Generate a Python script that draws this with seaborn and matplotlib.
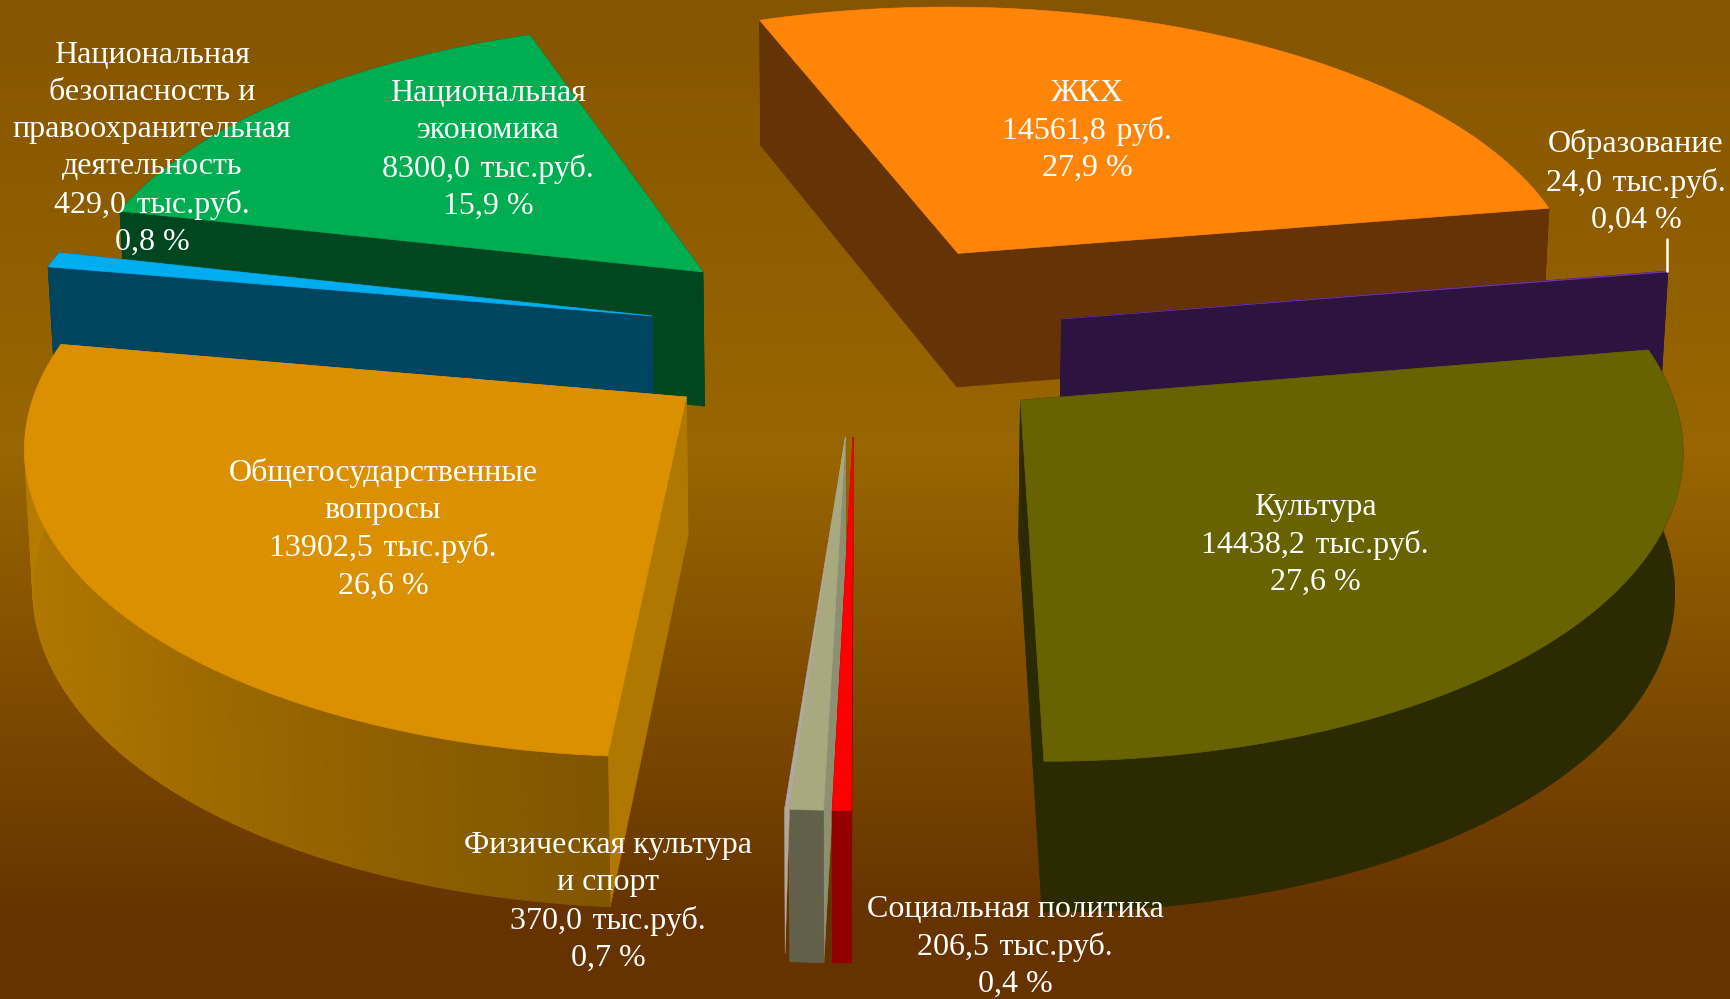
import numpy as np
import matplotlib
matplotlib.use('Agg')
import matplotlib.pyplot as plt
from matplotlib.colors import LinearSegmentedColormap
import seaborn as sns

# data
names = ['ЖКХ', 'Образование', 'Культура', 'Социальная политика', 'Физическая культура\nи спорт',
         'Общегосударственные\nвопросы', 'Национальная\nбезопасность и\nправоохранительная\nдеятельность',
         'Национальная\nэкономика']
values = [14561.8, 24.0, 14438.2, 206.5, 370.0, 13902.5, 429.0, 8300.0]
units = ['руб.', 'тыс.руб.', 'тыс.руб.', 'тыс.руб.', 'тыс.руб.', 'тыс.руб.', 'тыс.руб.', 'тыс.руб.']
percents = ['27,9', '0,04', '27,6', '0,4', '0,7', '26,6', '0,8', '15,9']

# colours
top_colors = ['#FF8508', '#7030A0', '#666300', '#FF0000', '#A9A980', '#DB9000', '#00AEEF', '#00AD50']
side_colors = ['#663306', '#2C1340', '#2B2A00', '#920000', '#8E8E70', '#B07800', '#004560', '#00461F']
rim_colors = ['#663306', '#2C1340', '#2B2A00', '#920000', '#626048', None, '#004560', '#00461F']

# label centres in pixels
label_x = [1087, 1636, 1315, 1015, 608, 383, 152, 488]
label_y = [131, 182, 545, 947, 902, 529, 149, 150]

# view parameters, all fitted by eye
start_angle = -19.95
explode = 0.33
cx, vy, D, k, a = 856.0, -2000.0, 2350.0, 0.128, 640.0
centre_y = -0.05
height = 137.0
converge = 0.99

sns.set_theme(style='white')
plt.rcParams['font.family'] = ['Liberation Serif', 'DejaVu Serif']


def project(X, Y, low=False):
    s = 1.0 / (1.0 - k * Y)
    px = cx + a * X * s
    py = vy + D * s
    if low:
        px = cx + (px - cx) * converge
        py = py + height * s ** 0.6
    return px, py


fig = plt.figure(figsize=(17.30, 9.99), dpi=100)
ax = fig.add_axes([0, 0, 1, 1])

# background
bg = LinearSegmentedColormap.from_list('bg', [(0, '#855500'), (0.45, '#996600'), (0.92, '#663300'), (1, '#663300')])
ax.imshow(np.linspace(0, 1, 512).reshape(-1, 1), cmap=bg, aspect='auto', extent=[0, 1730, 999, 0], zorder=0)

shares = np.array(values) / np.sum(values) * 360.0
starts = start_angle + np.concatenate([[0], np.cumsum(shares)[:-1]])
ends = starts + shares
mids = (starts + ends) / 2
order = np.argsort(-np.cos(np.radians(mids)))
n_rim = 90
gold_rim = sns.blend_palette(['#BB8000', '#A87200', '#815600'], n_rim)

z = 1
for i in order:
    m = np.radians(mids[i])
    ax0, ay0 = explode * np.sin(m), centre_y - explode * np.cos(m)
    th = np.radians(np.linspace(starts[i], ends[i], max(3, int(shares[i] * 1.5))))
    X = ax0 + np.sin(th)
    Y = ay0 - np.cos(th)
    tx, ty = project(X, Y)
    bx, by = project(X, Y, low=True)
    px, py = project(ax0, ay0)
    qx, qy = project(ax0, ay0, low=True)

    # radial faces
    for j in [0, -1]:
        ax.fill([px, tx[j], bx[j], qx], [py, ty[j], by[j], qy], color=side_colors[i], lw=0.5, zorder=z)
    z += 1

    # outer rim
    if rim_colors[i] is None:
        # gradient runs from the right end to the left end of the rim
        fine = np.radians(np.linspace(starts[i], ends[i], n_rim + 1))
        X2 = ax0 + np.sin(fine)
        Y2 = ay0 - np.cos(fine)
        tx2, ty2 = project(X2, Y2)
        bx2, by2 = project(X2, Y2, low=True)
        for j in range(n_rim):
            ax.fill([tx2[j], tx2[j + 1], bx2[j + 1], bx2[j]], [ty2[j], ty2[j + 1], by2[j + 1], by2[j]],
                    color=gold_rim[n_rim - 1 - j], lw=0.6, zorder=z)
    else:
        ax.fill(np.r_[tx, bx[::-1]], np.r_[ty, by[::-1]], color=rim_colors[i], lw=0.5, zorder=z)
    z += 1

    # pale strip on the left of the sport slice
    if names[i].startswith('Физическая'):
        ax.fill([px, tx[-1] - 5, bx[-1] - 5, tx[-1]], [py, ty[-1], by[-1] - 8, ty[-1]], color='#B0A8A0', lw=0.3, zorder=z)
        z += 1

    # top
    ax.fill(np.r_[px, tx], np.r_[py, ty], color=top_colors[i], lw=0.5, zorder=z)
    z += 1

    if names[i] == 'Образование':
        ax.plot([tx[0], tx[0]], [ty[0] - 32, ty[0]], color='white', lw=1.8, zorder=50)

# labels
for i in range(len(names)):
    num = f'{values[i]:.1f}'.replace('.', ',')
    txt = f'{names[i]}\n{num} \u200a{units[i]}\n{percents[i]} %'
    ax.text(label_x[i], label_y[i], txt, color='white', fontsize=23, ha='center', va='center',
            linespacing=1.37, zorder=60)

ax.set_xlim(0, 1730)
ax.set_ylim(999, 0)
ax.axis('off')
fig.savefig('out.png', dpi=100)
